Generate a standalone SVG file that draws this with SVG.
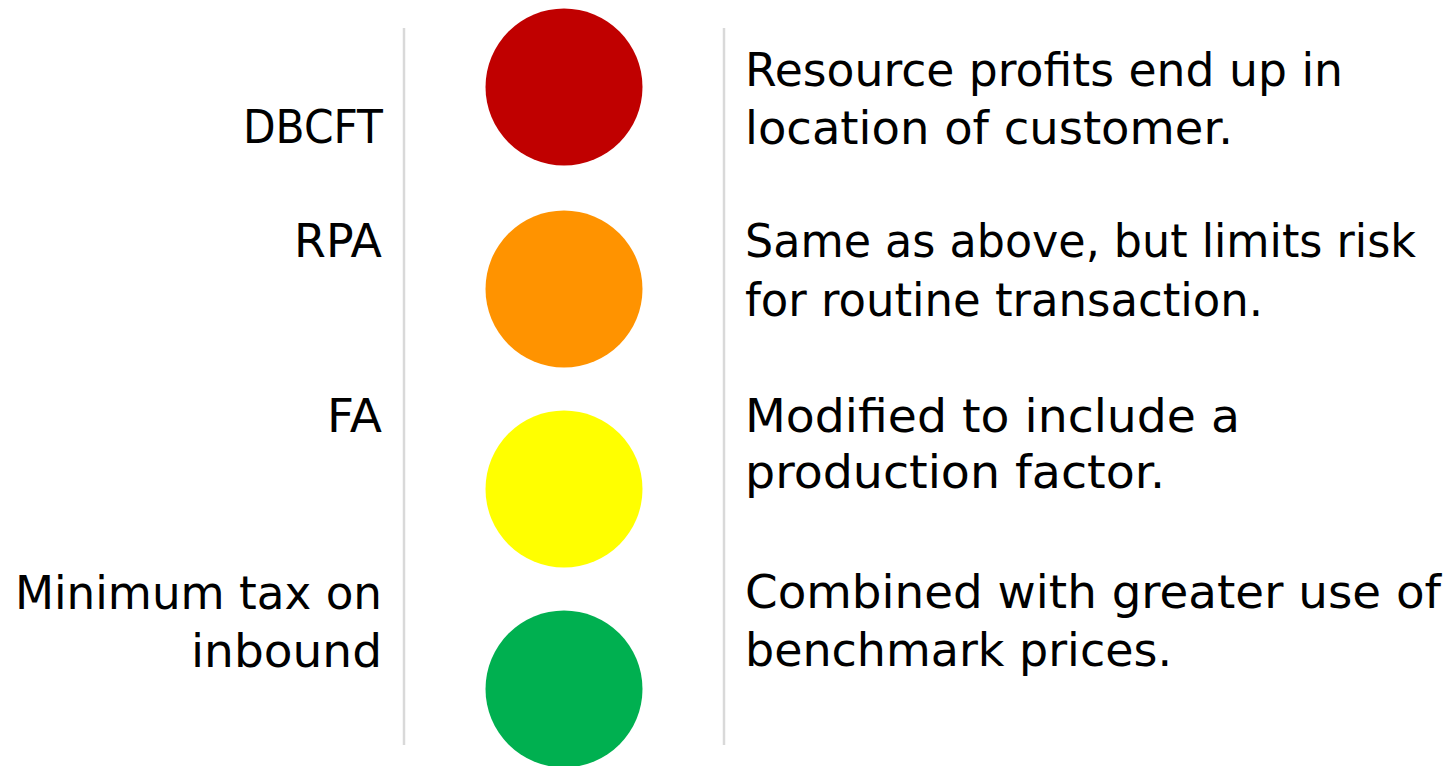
<svg xmlns="http://www.w3.org/2000/svg" width="1453" height="766" viewBox="0 0 1453 766">
  <style>
    .lbl { font-family: "DejaVu Sans", "Liberation Sans", sans-serif; font-size: 46px; fill: #000000; }
    .left { text-anchor: end; }
    .rule { stroke: #D9D9D9; stroke-width: 2.5; fill: none; }
  </style>
  <rect width="1453" height="766" fill="#FFFFFF"/>

  <!-- vertical dividers -->
  <g id="connectors">
    <line class="rule" x1="404" y1="28" x2="404" y2="745"/>
    <line class="rule" x1="724" y1="28" x2="724" y2="745"/>
  </g>

  <g id="dbcft">
    <text class="lbl left" x="383" y="143" textLength="140" lengthAdjust="spacingAndGlyphs">DBCFT</text>
    <circle cx="564" cy="87" r="78.5" fill="#C00000"/>
    <text class="lbl" x="745" y="86" textLength="598" lengthAdjust="spacingAndGlyphs">Resource profits end up in</text>
    <text class="lbl" x="745" y="144" textLength="488" lengthAdjust="spacingAndGlyphs">location of customer.</text>
  </g>

  <g id="rpa">
    <text class="lbl left" x="382" y="257" textLength="88" lengthAdjust="spacingAndGlyphs">RPA</text>
    <circle cx="564" cy="289" r="78.5" fill="#FF9300"/>
    <text class="lbl" x="745" y="257" textLength="671" lengthAdjust="spacingAndGlyphs">Same as above, but limits risk</text>
    <text class="lbl" x="745" y="316" textLength="518" lengthAdjust="spacingAndGlyphs">for routine transaction.</text>
  </g>

  <g id="fa">
    <text class="lbl left" x="382" y="432" textLength="55" lengthAdjust="spacingAndGlyphs">FA</text>
    <circle cx="564" cy="489" r="78.5" fill="#FFFF00"/>
    <text class="lbl" x="745" y="432" textLength="495" lengthAdjust="spacingAndGlyphs">Modified to include a</text>
    <text class="lbl" x="745" y="488" textLength="420" lengthAdjust="spacingAndGlyphs">production factor.</text>
  </g>

  <g id="min-tax">
    <text class="lbl left" x="382" y="609" textLength="367" lengthAdjust="spacingAndGlyphs">Minimum tax on</text>
    <text class="lbl left" x="382" y="667" textLength="191" lengthAdjust="spacingAndGlyphs">inbound</text>
    <circle cx="564" cy="689" r="78.5" fill="#00B050"/>
    <text class="lbl" x="745" y="608" textLength="696" lengthAdjust="spacingAndGlyphs">Combined with greater use of</text>
    <text class="lbl" x="745" y="666" textLength="427" lengthAdjust="spacingAndGlyphs">benchmark prices.</text>
  </g>
</svg>
